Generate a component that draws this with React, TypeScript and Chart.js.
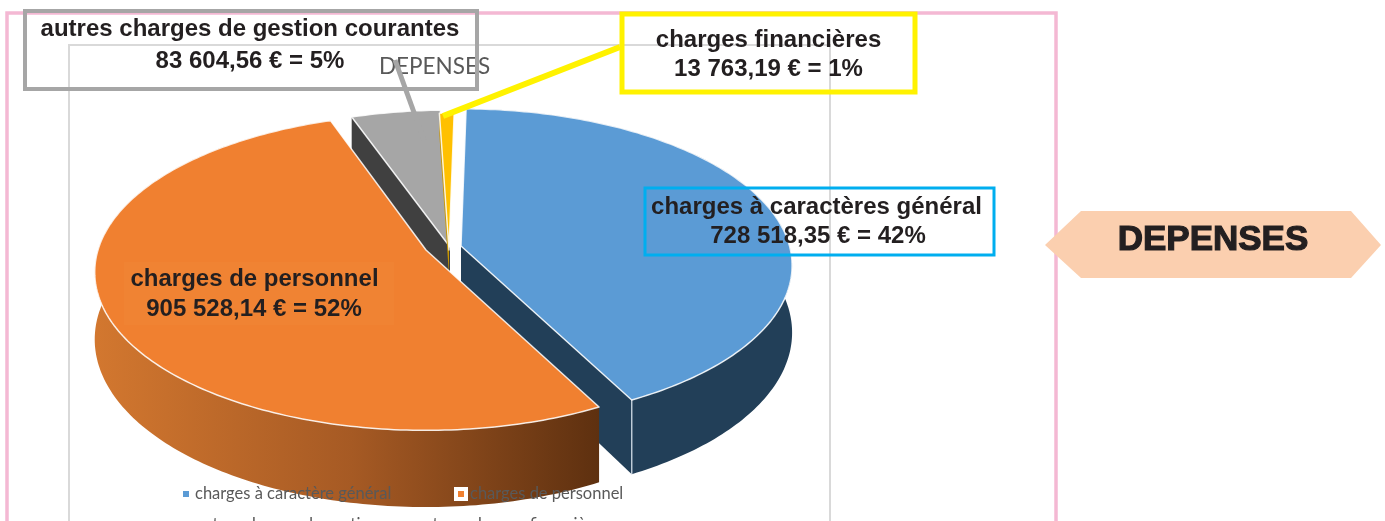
import React, { useEffect, useRef } from "react";
import { Chart, registerables } from "chart.js";

Chart.register(...registerables);

const categories = ["charges à caractère général", "charges de personnel", "autres charges de gestion courantes", "charges financières"];
const amounts = [728518.35, 905528.14, 83604.56, 13763.19];
const sliceColors = ["#5B9BD5", "#F08030", "#A6A6A6", "#FFC000"];
const wallColors = ["#223F58", "#8A4A1B", "#404040", "#C99700"];
const calloutNames = ["charges à caractères général", "charges de personnel", "autres charges de gestion courantes", "charges financières"];
const calloutValues = ["728 518,35 € = 42%", "905 528,14 € = 52%", "83 604,56 € = 5%", "13 763,19 € = 1%"];
const chartTitle = "DEPENSES";
const sideLabel = "DEPENSES";

// projection of each slice: tip offset from the pie centre and ellipse shape, all relative to the radius
const shapes = [
  { dx: 3, dy: -1, a: 1.33, b: 0.625, k: 0.125, d: 0.267 },
  { dx: -32, dy: 3, a: 1.328, b: 0.628, k: 0.14, d: 0.267 },
  { dx: -8, dy: 0, a: 1.336, b: 0.617, k: 0.113, d: 0.25 },
  { dx: -9, dy: 3, a: 1.336, b: 0.617, k: 0.113, d: 0.1 },
];
const drawOrder = [2, 3, 0, 1];

function rect(ctx: CanvasRenderingContext2D, x: number, y: number, w: number, h: number, color: string, lw: number) {
  ctx.strokeStyle = color;
  ctx.lineWidth = lw;
  ctx.strokeRect(x, y, w, h);
}
function seg(ctx: CanvasRenderingContext2D, x1: number, y1: number, x2: number, y2: number, color: string, lw: number) {
  ctx.strokeStyle = color;
  ctx.lineWidth = lw;
  ctx.beginPath();
  ctx.moveTo(x1, y1);
  ctx.lineTo(x2, y2);
  ctx.stroke();
}
function centered(ctx: CanvasRenderingContext2D, s: string, x: number, y: number, font: string, color: string) {
  ctx.font = font;
  ctx.fillStyle = color;
  ctx.textAlign = "center";
  ctx.textBaseline = "middle";
  ctx.fillText(s, x, y);
}

const backdrop = {
  id: "backdrop",
  beforeDatasetsDraw(chart: any) {
    const ctx = chart.ctx as CanvasRenderingContext2D;
    ctx.save();
    rect(ctx, 69, 45, 761, 520, "#D9D9D9", 2);
    rect(ctx, 7, 13, 1049, 540, "#F4B8D3", 3.5);
    ctx.restore();
  },
};

const pie3d = {
  id: "pie3d",
  beforeDatasetsDraw(chart: any) {
    const ctx = chart.ctx as CanvasRenderingContext2D;
    const arcs = chart.getDatasetMeta(0).data;
    ctx.save();
    for (const i of drawOrder) {
      const arc = arcs[i];
      const s = shapes[i];
      const R = arc.outerRadius;
      const cx = arc.x + s.dx;
      const cy = arc.y + s.dy;
      const p = (ang: number, down: number) => {
        const Y = Math.sin(ang);
        const w = 1 - s.k * Y;
        return [cx + (R * s.a * Math.cos(ang)) / w, cy + (R * s.b * Y + down * R * s.d) / w];
      };
      const steps = Math.max(4, Math.ceil((arc.endAngle - arc.startAngle) * 60));
      const along = (down: number, rev = false) => {
        const out: number[][] = [];
        for (let n = 0; n <= steps; n++) {
          const t = rev ? 1 - n / steps : n / steps;
          out.push(p(arc.startAngle + (arc.endAngle - arc.startAngle) * t, down));
        }
        return out;
      };
      const fillPoly = (pts: number[][], style: any) => {
        ctx.beginPath();
        pts.forEach((q, n) => (n ? ctx.lineTo(q[0], q[1]) : ctx.moveTo(q[0], q[1])));
        ctx.closePath();
        ctx.fillStyle = style;
        ctx.fill();
      };
      const tip = [cx, cy];
      const tipLow = [cx, cy + R * s.d];
      // cut faces
      if (i === 0) {
        const c0 = p(arc.endAngle, 0);
        const c1 = p(arc.endAngle, 1);
        fillPoly([tip, c0, c1, tipLow], wallColors[i]);
      }
      if (i === 2 || i === 3) {
        const c0 = p(arc.startAngle, 0);
        const c1 = p(arc.startAngle, 1);
        fillPoly([tip, c0, c1, tipLow], wallColors[i]);
      }
      // outer wall
      let wall: any = wallColors[i];
      if (i === 1) {
        wall = ctx.createLinearGradient(arc.x - R * 1.46, 0, arc.x + R * 0.6, 0);
        wall.addColorStop(0, "#D2772F");
        wall.addColorStop(0.5, "#A65A24");
        wall.addColorStop(1, "#5C2F0F");
      }
      if (i === 0 || i === 1) {
        fillPoly([...along(0), ...along(1, true)], wall);
      }
      if (i === 0) {
        const c0 = p(arc.endAngle, 0);
        const c1 = p(arc.endAngle, 1);
        seg(ctx, c0[0], c0[1], c1[0], c1[1], "rgba(220,230,240,0.8)", 1.5);
      }
      // top face
      const top = [tip, ...along(0)];
      fillPoly(top, sliceColors[i]);
      ctx.strokeStyle = "rgba(255,255,255,0.85)";
      ctx.lineWidth = 1.5;
      ctx.lineJoin = "round";
      ctx.stroke();
    }
    ctx.restore();
    return false;
  },
};

const annotations = {
  id: "annotations",
  afterDraw(chart: any) {
    const ctx = chart.ctx as CanvasRenderingContext2D;
    const bold = '700 24px "Liberation Sans"';
    const ink = "#231F20";
    ctx.save();
    // legend, over the pie
    const legendFont = '16.5px Lato';
    const legendInk = "#595959";
    const row = (s: string, x: number, y: number) => {
      ctx.font = legendFont;
      ctx.fillStyle = legendInk;
      ctx.textAlign = "left";
      ctx.textBaseline = "middle";
      ctx.fillText(s, x, y);
    };
    ctx.fillStyle = sliceColors[0];
    ctx.fillRect(183, 491, 6, 6);
    row(categories[0], 195, 494);
    ctx.fillStyle = "#FFFFFF";
    ctx.fillRect(454, 487, 14, 14);
    ctx.fillStyle = sliceColors[1];
    ctx.fillRect(458, 491, 6, 6);
    row(categories[1], 470, 494);
    ctx.fillStyle = sliceColors[2];
    ctx.fillRect(183, 522, 6, 6);
    row(categories[2], 195, 525);
    row(categories[3], 470, 525);

    // chart title
    centered(ctx, chartTitle, 434.5, 67, '400 22.5px Lato', "#595959");

    // leaders
    seg(ctx, 395, 60, 424, 140, "#A6A6A6", 5);
    seg(ctx, 620, 47, 443, 116, "#FFF200", 6);

    // callout boxes
    rect(ctx, 25, 11, 452, 78, "#A6A6A6", 4);
    rect(ctx, 622, 14, 293, 78, "#FFF200", 5);
    rect(ctx, 645, 188, 349, 67, "#00AEEF", 3);
    ctx.fillStyle = "rgba(255,200,120,0.05)";
    ctx.fillRect(124, 262, 270, 63);

    centered(ctx, calloutNames[2], 250, 29, bold, ink);
    centered(ctx, calloutValues[2], 250, 61, bold, ink);
    centered(ctx, calloutNames[3], 768.5, 40, bold, ink);
    centered(ctx, calloutValues[3], 768.5, 69, bold, ink);
    centered(ctx, calloutNames[0], 816.5, 207, bold, ink);
    centered(ctx, calloutValues[0], 818, 236, bold, ink);
    centered(ctx, calloutNames[1], 254.5, 279, bold, ink);
    centered(ctx, calloutValues[1], 254, 309, bold, ink);

    // side tag
    const hex = [[1045, 245], [1081, 211], [1351, 211], [1381, 245], [1351, 278], [1081, 278]];
    ctx.beginPath();
    hex.forEach((q, n) => (n ? ctx.lineTo(q[0], q[1]) : ctx.moveTo(q[0], q[1])));
    ctx.closePath();
    ctx.fillStyle = "#FBCFAF";
    ctx.fill();
    ctx.lineWidth = 1.2;
    ctx.strokeStyle = ink;
    centered(ctx, sideLabel, 1213, 240, '700 35px "Liberation Sans"', ink);
    ctx.strokeText(sideLabel, 1213, 240);
    ctx.restore();
  },
};

export default function App() {
  const ref = useRef<HTMLCanvasElement>(null);
  useEffect(() => {
    const chart = new Chart(ref.current as HTMLCanvasElement, {
      type: "pie",
      data: {
        labels: categories,
        datasets: [{ data: amounts, backgroundColor: sliceColors, borderWidth: 0 }],
      },
      options: {
        responsive: false,
        animation: false,
        rotation: 1,
        layout: { padding: { left: 0, right: 469, top: 0, bottom: 27 } },
        plugins: { legend: { display: false }, title: { display: false }, tooltip: { enabled: false } },
      },
      plugins: [backdrop, pie3d, annotations],
    } as any);
    return () => chart.destroy();
  }, []);
  return (
    <div style={{ position: "fixed", left: 0, top: 0, width: 1385, height: 521, overflow: "hidden", background: "#FFFFFF" }}>
      <canvas ref={ref} width={1385} height={521} style={{ display: "block" }} />
    </div>
  );
}
